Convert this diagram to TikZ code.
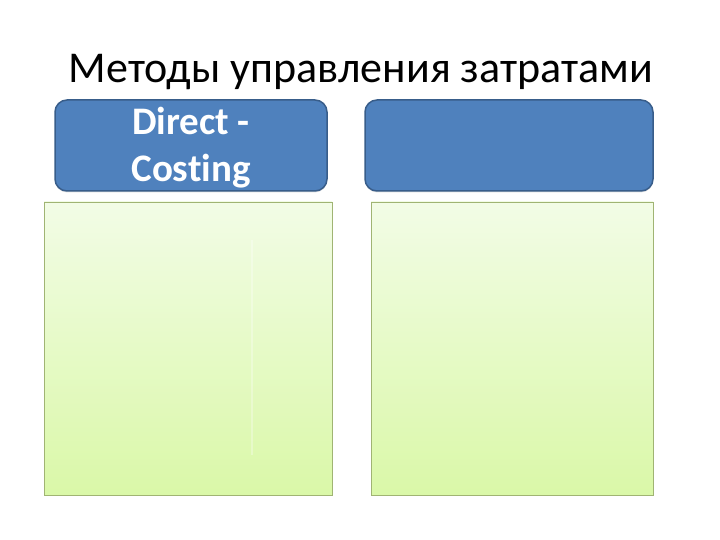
\documentclass[tikz,border=0pt]{standalone}
\usepackage{fontspec}
\setmainfont{Carlito}[Ligatures=NoCommon]
\usetikzlibrary{shadows}
\definecolor{boxblue}{RGB}{79,129,189}
\definecolor{boxedge}{RGB}{56,93,138}
\definecolor{greentop}{RGB}{242,252,230}
\definecolor{greenbot}{RGB}{218,248,168}
\definecolor{greenedge}{RGB}{160,180,115}
\tikzset{
  headbox/.style={draw=boxedge, line width=1.5pt, fill=boxblue, rounded corners=12pt,
    minimum height=91pt, inner sep=0pt,
    drop shadow={shadow xshift=0pt, shadow yshift=-1.5pt, opacity=0.25}},
  headtext/.style={anchor=base, align=center, text=white, inner sep=0pt,
    font=\fontsize{39}{47}\selectfont\bfseries},
  listbox/.style={draw=greenedge, line width=0.8pt, top color=greentop, bottom color=greenbot,
    minimum height=293pt, inner sep=0pt}
}
\begin{document}
\begin{tikzpicture}[x=1pt,y=-1pt]
    \useasboundingbox (0,0) rectangle (720,540);

    % 标题
    \node [anchor=base, font=\fontsize{44}{52}\selectfont] (title) at (361,83) {Методы управления затратами};

    % 上面的两个蓝框
    \node [headbox, minimum width=272pt] (left) at (191,145.5) {};
    \node [headtext] (lefttext) at (191,182) {Direct -\\Costing};
    \node [headbox, minimum width=288pt] (right) at (509,145.5) {};

    % 下面的两个绿框
    \node [listbox, minimum width=288pt] (leftlist) at (188,348.5) {};
    \node [listbox, minimum width=282pt] (rightlist) at (512,348.5) {};

    % 左绿框里的淡线
    \draw [white, line width=1.5pt, opacity=0.3] (252,240) -- (252,455);
\end{tikzpicture}
\end{document}
